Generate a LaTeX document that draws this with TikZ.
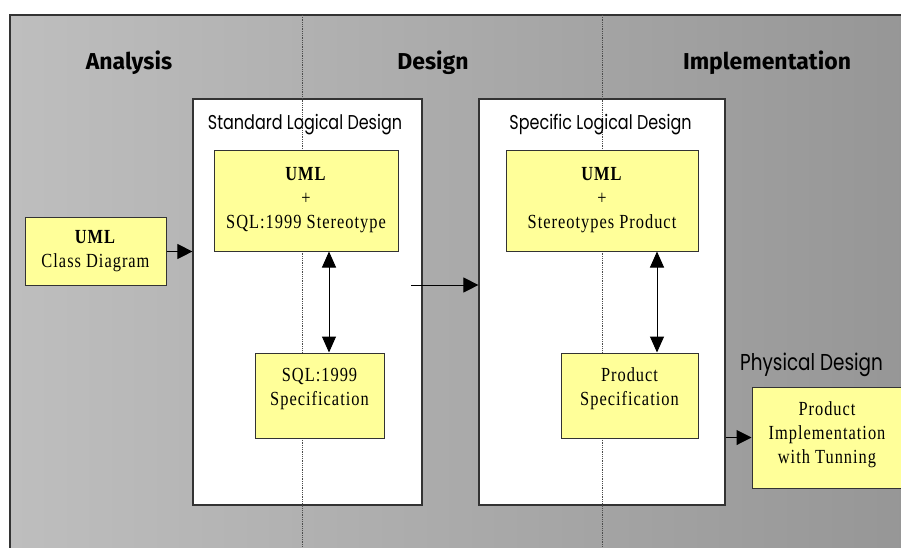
\documentclass[tikz,border=0pt]{standalone}
\usepackage{fontspec}
\usetikzlibrary{arrows.meta}

\newfontfamily\boxfont[FakeStretch=0.82,LetterSpace=5]{Liberation Serif}
\newfontfamily\phasefont{Fira Sans}
\newfontfamily\titlefont[FakeStretch=0.8]{Poppins}

\definecolor{notefill}{HTML}{FFFF99}
\definecolor{edge}{HTML}{333333}
\definecolor{bgleft}{HTML}{BEBEBE}
\definecolor{bgright}{HTML}{969696}

\tikzset{
  phase/.style={font=\phasefont\bfseries\fontsize{23}{26}\selectfont, anchor=base},
  caption/.style={font=\titlefont\fontsize{20}{24}\selectfont, anchor=base},
  stage/.style={draw=edge, line width=1.2pt, fill=white, inner sep=0},
  note/.style={draw=edge, line width=1pt, fill=notefill, align=center, inner sep=0,
    font=\boxfont\fontsize{20}{24}\selectfont},
  flow/.style={-{Triangle[length=15pt,width=15pt]}, line width=1pt},
  both/.style={{Triangle[length=16pt,width=14pt]}-{Triangle[length=16pt,width=14pt]}, line width=1pt},
  lane/.style={densely dotted, line width=0.8pt, gray!60!black}
}

\begin{document}
\begin{tikzpicture}[x=1pt,y=-1pt]

  \clip (0,0) rectangle (901,547);

  % backdrop
  \shade[left color=bgleft, right color=bgright] (10,15) rectangle (910,560);
  \draw[edge, line width=1.5pt] (910,15) -- (10,15) -- (10,560);

  \node[stage, minimum width=229pt, minimum height=406pt] (std) at (307.5,302) {};
  \node[stage, minimum width=246pt, minimum height=406pt] (spec) at (602,302) {};

  \foreach \x in {302,602}
    \draw[lane] (\x,15) -- (\x,547);

  \node[phase] (analysis) at (129,69) {Analysis};
  \node[phase] (design) at (433,69) {Design};
  \node[phase] (implementation) at (767,69) {Implementation};

  \node[caption] (stdtitle) at (305,129) {Standard Logical Design};
  \node[caption] (spectitle) at (600.5,129) {Specific Logical Design};
  \node[caption, font=\titlefont\fontsize{23}{26}\selectfont] (phystitle) at (811.5,370) {Physical Design};

  \node[note, minimum width=141pt, minimum height=68pt] (classdiag) at (95.5,251.5) {\textbf{UML}\\Class Diagram};
  \node[note, minimum width=184pt, minimum height=101pt] (umlsql) at (306,200.5) {\textbf{UML}\\+\\SQL:1999 Stereotype};
  \node[note, minimum width=129pt, minimum height=85pt, text depth=18pt] (sqlspec) at (319.5,395.5) {SQL:1999\\Specification};
  \node[note, minimum width=192pt, minimum height=101pt] (umlprod) at (602,200.5) {\textbf{UML}\\+\\Stereotypes Product};
  \node[note, minimum width=137pt, minimum height=85pt, text depth=18pt] (prodspec) at (629.5,395.5) {Product\\Specification};
  \node[note, minimum width=150pt, minimum height=101pt, text depth=10pt] (physical) at (827,437.5) {Product\\Implementation\\with Tunning};

  \coordinate (handoff) at (411,285);
  \draw[flow] (classdiag.east) -- (classdiag.east -| std.west);
  \draw[flow] (handoff) -- (handoff -| spec.west);
  \draw[flow] (physical.west -| spec.east) -- (physical.west);
  \draw[both] ([xshift=23pt]umlsql.south) -- ([xshift=23pt]umlsql.south |- sqlspec.north);
  \draw[both] ([xshift=55pt]umlprod.south) -- ([xshift=55pt]umlprod.south |- prodspec.north);

\end{tikzpicture}
\end{document}
